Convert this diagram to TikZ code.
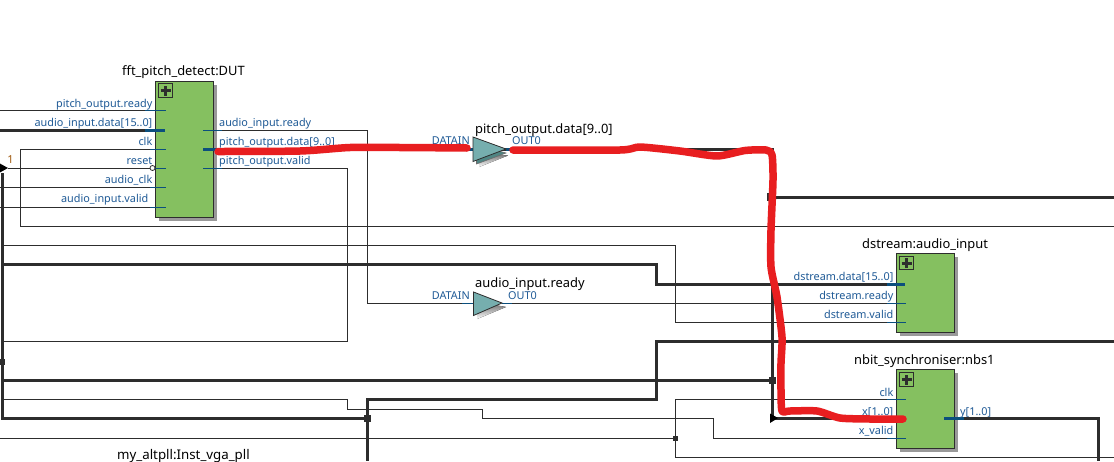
\documentclass[tikz,border=0pt]{standalone}
\usepackage{fontspec}
\setmainfont{Noto Sans}
\definecolor{wire}{HTML}{2D2D2D}
\definecolor{blockgreen}{HTML}{85C060}
\definecolor{shade}{HTML}{999999}
\definecolor{portblue}{HTML}{0B4F7D}
\definecolor{labelblue}{HTML}{1F5A96}
\definecolor{teal}{HTML}{76AEAE}
\definecolor{darkteal}{HTML}{4F8583}
\definecolor{scrawl}{HTML}{E81E20}
\definecolor{constcol}{HTML}{A05A10}
\tikzset{
  thin wire/.style={draw=wire,line width=1pt},
  thick wire/.style={draw=wire,line width=3pt},
  stub/.style={draw=portblue,line width=1pt},
  bus stub/.style={draw=portblue,line width=3pt},
  block/.style={rectangle,draw=wire,fill=blockgreen,line width=1pt,minimum width=58pt,inner sep=0pt},
  blockshadow/.style={rectangle,fill=shade,minimum width=58pt,inner sep=0pt},
  plusbox/.style={rectangle,draw=wire,line width=1pt,minimum width=13.5pt,minimum height=13.5pt,inner sep=0pt},
  plline/.style={draw=wire,line width=3pt},
  title/.style={text=black,font=\fontsize{12.9}{15}\selectfont,inner sep=0pt},
  plabel/.style={text=labelblue,font=\fontsize{10.85}{13}\selectfont,inner sep=0pt},
  junc/.style={rectangle,fill=wire,inner sep=0pt,minimum width=#1,minimum height=#1},
  red stroke/.style={draw=scrawl,line width=7.5pt,line cap=round,line join=round},
  arrowmark/.style={fill=black,draw=none},
  buffer/.style={draw=wire,fill=teal,line width=.8pt,line join=miter}
}
\newcommand{\plusmark}[1]{%
  \draw[plline] ([xshift=-5pt]#1.center) -- ([xshift=5pt]#1.center);
  \draw[plline] ([yshift=-5pt]#1.center) -- ([yshift=5pt]#1.center);}
\begin{document}
\begin{tikzpicture}[x=1pt,y=-1pt]
\useasboundingbox (0,0) rectangle (1114,461);
\fill[white] (0,0) rectangle (1114,461);
% frame coordinates
\coordinate (L110) at (0,110);
\coordinate (L130) at (0,130);
\coordinate (L187) at (0,187);
\coordinate (L207) at (0,207);
\coordinate (L438) at (0,438);
\coordinate (R197) at (1114,197);
\coordinate (R226) at (1114,226);
\coordinate (R341) at (1114,341);
\coordinate (R458) at (1114,457.5);
\coordinate (Ybot) at (1098.5,461);
\coordinate (Pbot) at (367.5,461);
% blocks' ports
\coordinate (fiReady) at (166,110);
\coordinate (fiData) at (165,130);
\coordinate (fiClk) at (166,149);
\coordinate (fiReset) at (150,168);
\coordinate (fiAclk) at (166,187);
\coordinate (fiValid) at (166,207);
\coordinate (foReady) at (203,130);
\coordinate (foData) at (203,149);
\coordinate (foValid) at (203,168);
\coordinate (dData) at (905,284);
\coordinate (dReady) at (906,303);
\coordinate (dValid) at (906,322);
\coordinate (nClk) at (906,399);
\coordinate (nX) at (905,418);
\coordinate (nV) at (906,438);
\coordinate (nY) at (944,418);
\coordinate (t1in) at (473,149);
\coordinate (t1out) at (506,149);
\coordinate (t2in) at (473,303);
\coordinate (t2out) at (502,303);
\coordinate (busTop) at (2,173);
% junctions
\node[junc=6pt] (j1) at (2,361.5) {};
\node[junc=7pt] (j2) at (367.5,418) {};
\node[junc=7pt] (j3) at (772,380) {};
\node[junc=5pt] (j4) at (675,438) {};
\node[rectangle,fill=wire,inner sep=0pt,minimum width=2pt,minimum height=8pt] (j5) at (768,197) {};
% thin wires
\path[thin wire] (L110) -- (fiReady);
\path[thin wire] (fiClk) -- (20.5,149) -- (20.5,226) -- (R226);
\path[thin wire] (8,168) -- (fiReset);
\path[thin wire] (L187) -- (fiAclk);
\path[thin wire] (L207) -- (fiValid);
\path[thin wire] (foReady) -- (367,130) -- (367,303) -- (t2in);
\path[thin wire] (t2out) -- (dReady);
\path[thin wire] (foValid) -- (347.5,168) -- (347.5,341) -- (2,341);
\path[thin wire] (2,245) -- (675,245) -- (675,322) -- (dValid);
\path[thin wire] (2,399) -- (347.5,399) -- (347.5,409) -- (482,409) -- (482,418.5) -- (713.5,418.5) -- (713.5,438) -- (nV);
\path[thin wire] (L438) -- (j4.center);
\path[thin wire] (nClk) -- (675,399) -- (675,457.5) -- (R458);
% thick wires
\path[thick wire] (L130) -- (fiData);
\path[thick wire] (busTop) -- (2,418) -- (j2.center);
\path[thick wire] (foData) -- (772,149) -- (772,418) -- (nX);
\path[thick wire] (j5.center) -- (R197);
\path[thick wire] (2,264) -- (656.5,264) -- (656.5,284) -- (dData);
\path[thick wire] (R341) -- (656.5,341) -- (656.5,399.5) -- (367.5,399.5) -- (Pbot);
\path[thick wire] (2,380) -- (j3.center);
\path[thick wire] (nY) -- (1098.5,418) -- (Ybot);
% arrow marks
\fill[arrowmark] (-1,163) -- (8,168) -- (-1,173) -- cycle;
\fill[arrowmark] (770,413.5) -- (778,418) -- (770,423) -- cycle;
% blocks
\node[blockshadow,minimum height=136pt] at (188,152.5) {};
\node[block,minimum height=136pt] (fft) at (184.5,149) {};
\node[blockshadow,minimum height=79pt] at (929,296) {};
\node[block,minimum height=79pt] (dst) at (925.5,292.5) {};
\node[blockshadow,minimum height=79pt] at (929,412) {};
\node[block,minimum height=79pt] (nbs) at (925.5,408.5) {};
\node[plusbox] (pf) at (165.5,90.5) {};
\node[plusbox] (pd) at (906.5,263) {};
\node[plusbox] (pn) at (906.5,379.5) {};
\plusmark{pf}\plusmark{pd}\plusmark{pn}
% port stubs
\path[stub] (145,110) -- (fiReady);
\path[bus stub] (145,130) -- (fiData);
\path[stub] (150,149) -- (fiClk);
\path[stub] (155,168) -- (166,168);
\path[stub] (150,187) -- (fiAclk);
\path[stub] (150,207) -- (fiValid);
\path[stub] (foReady) -- (222,130);
\path[bus stub] (foData) -- (222,149);
\path[stub] (foValid) -- (222,168);
\path[bus stub] (887,284) -- (dData);
\path[stub] (887,303) -- (dReady);
\path[stub] (887,322) -- (dValid);
\path[stub] (887,399) -- (nClk);
\path[bus stub] (887,418) -- (nX);
\path[stub] (887,438) -- (nV);
\path[bus stub] (nY) -- (964,418);
\draw[draw=wire,fill=white,line width=.8pt] (152.5,168) circle (2.5pt);
% buffers
\path[bus stub] (466,149) -- (t1in);
\path[bus stub] (t1out) -- (512,149);
\fill[shade] (479,167) -- (508,155.5) -- (500,155) -- (479,160) -- cycle;
\draw[draw=wire!70,fill=darkteal,line width=.6pt] (476.5,145) -- (506,153) -- (476.5,164) -- cycle;
\path[buffer] (473,137) -- (t1out) -- (473,161.5) -- cycle;
\fill[shade] (477,319) -- (506,307) -- (495,305) -- (477,311) -- cycle;
\path[stub] (462,303) -- (t2in);
\path[stub] (t2out) -- (512,303);
\path[buffer] (473.5,292) -- (t2out) -- (473.5,315.5) -- cycle;
% titles
\node[title,anchor=base west] (tf) at (122,75) {fft\_pitch\_detect:DUT};
\node[title,anchor=base west] (tp) at (475,133) {pitch\_output.data[9..0]};
\node[title,anchor=base west] (ta) at (475,287) {audio\_input.ready};
\node[title,anchor=base west] (td) at (862,248) {dstream:audio\_input};
\node[title,anchor=base west] (tn) at (854,364) {nbit\_synchroniser:nbs1};
\node[title,anchor=base west,font=\fontsize{13.3}{15}\selectfont] (tm) at (117,459) {my\_altpll:Inst\_vga\_pll};
% port labels
\node[plabel,anchor=base east] (a1) at (152.5,107) {pitch\_output.ready};
\node[plabel,anchor=base east] (a2) at (152.5,126) {audio\_input.data[15..0]};
\node[plabel,anchor=base east] (a3) at (152.5,145) {clk};
\node[plabel,anchor=base east] (a4) at (152.5,164) {reset};
\node[plabel,anchor=base east] (a5) at (152.5,183) {audio\_clk};
\node[plabel,anchor=base east] (a6) at (148.5,202.5) {audio\_input.valid};
\node[plabel,anchor=base west] (b1) at (219,126) {audio\_input.ready};
\node[plabel,anchor=base west] (b2) at (219,145) {pitch\_output.data[9..0]};
\node[plabel,anchor=base west] (b3) at (219,164) {pitch\_output.valid};
\node[plabel,anchor=base east] (c1) at (893.5,280) {dstream.data[15..0]};
\node[plabel,anchor=base east] (c2) at (893.5,299) {dstream.ready};
\node[plabel,anchor=base east] (c3) at (893.5,318) {dstream.valid};
\node[plabel,anchor=base east] (e1) at (893.5,396) {clk};
\node[plabel,anchor=base east] (e2) at (893.5,415) {x[1..0]};
\node[plabel,anchor=base east] (e3) at (893.5,434) {x\_valid};
\node[plabel,anchor=base west] (e4) at (960,415) {y[1..0]};
\node[plabel,anchor=base east] (g1) at (470,144.5) {DATAIN};
\node[plabel,anchor=base west] (g2) at (512,144.5) {OUT0};
\node[plabel,anchor=base east] (g3) at (470,299) {DATAIN};
\node[plabel,anchor=base west] (g4) at (508,299) {OUT0};
\node[text=constcol,font=\fontsize{11}{13}\selectfont,inner sep=0pt,anchor=base] (one) at (10.5,163) {1};
% red annotation
\path[red stroke] plot[smooth,tension=.45] coordinates {(218,151.5) (300,151) (350,147.5) (400,147.5) (467,148)};
\path[red stroke] plot[smooth,tension=.4] coordinates {(513,150) (620,150) (640,147) (680,151) (717,156) (745,150.5) (766,150) (772,155) (773,180) (771,230) (771,267) (777,297) (782,337) (781,363) (781,390) (782,411) (790,411) (817,411) (840,418) (870,419) (903,419)};
\end{tikzpicture}
\end{document}
